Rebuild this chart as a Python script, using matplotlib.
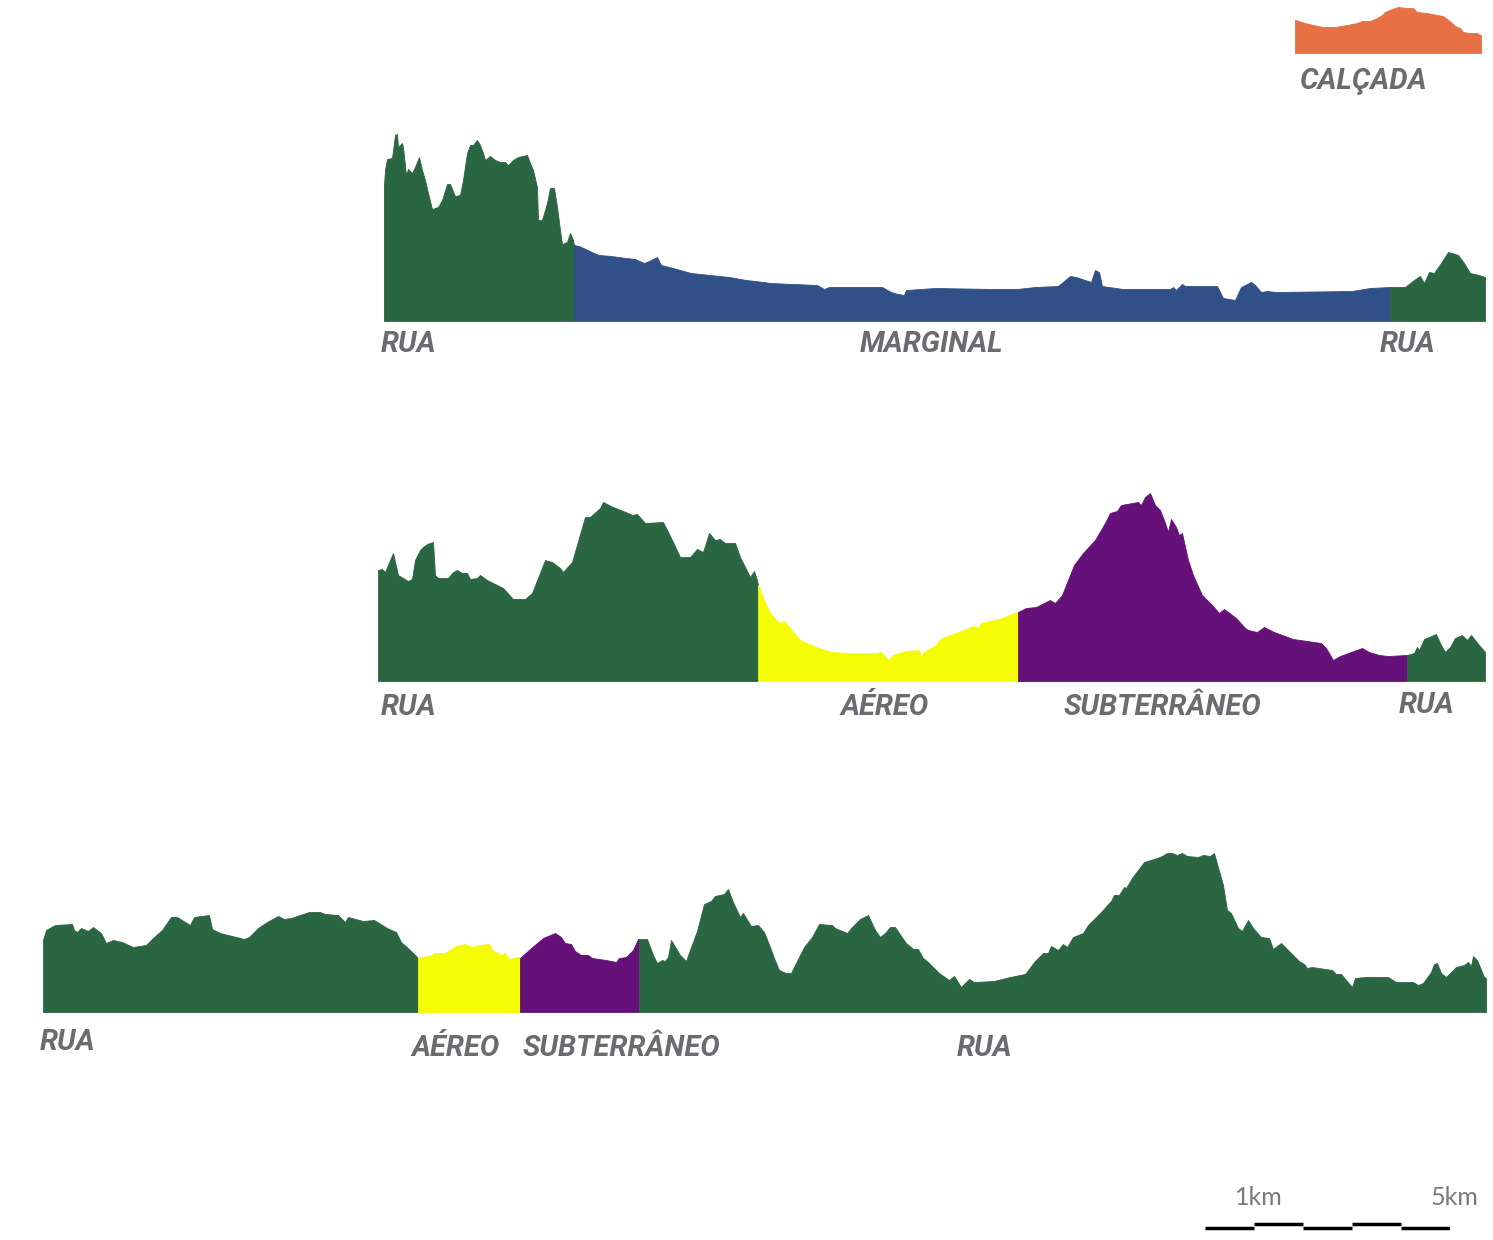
import numpy as np
import matplotlib
matplotlib.use("Agg")
import matplotlib.pyplot as plt
import matplotlib.transforms as mtransforms

# ---------------- data ----------------
COLORS = {
    "RUA": "#2a6642",
    "MARGINAL": "#325088",
    "AÉREO": "#f5fd04",
    "SUBTERRÂNEO": "#66117a",
    "CALÇADA": "#e87045",
}

# Calçada (small legend profile)
calcada_dist = [0.00, 0.20, 0.36, 0.56, 0.80, 1.04, 1.24, 1.34, 1.50, 1.64, 1.74, 1.80,
                1.94, 2.06, 2.24, 2.36, 2.44, 2.64, 2.84, 2.96, 3.04, 3.14, 3.20, 3.30,
                3.36, 3.50, 3.64, 3.70, 3.72]
calcada_elev = [733, 730, 728, 726, 726, 728, 730, 732, 732, 735, 738, 741,
                744, 746, 745, 745, 741, 740, 738, 737, 734, 730, 727, 725,
                721, 720, 720, 718, 718]
calcada_segs = [("CALÇADA", 0.00, 3.72)]

# Route 1
r1_dist = [0.00, 0.02, 0.06, 0.16, 0.22, 0.26, 0.28, 0.36, 0.38, 0.44, 0.48, 0.56, 0.62,
           0.70, 0.76, 0.82, 0.88, 0.96, 1.08, 1.16, 1.26, 1.32, 1.42, 1.52, 1.58, 1.66,
           1.72, 1.78, 1.86, 1.92, 1.98, 2.02, 2.12, 2.22, 2.32, 2.42, 2.48, 2.58, 2.68,
           2.86, 2.92, 2.98, 3.06, 3.08, 3.16, 3.26, 3.32, 3.40, 3.46, 3.52, 3.56, 3.66,
           3.72, 3.78, 3.80,
           3.90, 4.20, 4.30, 4.54, 4.84, 5.02, 5.20, 5.30, 5.46, 5.54, 5.78, 6.14, 6.90,
           7.24, 7.60, 7.72, 8.66, 8.80, 8.90, 9.96, 10.14, 10.28, 10.40, 10.44, 11.02,
           12.20, 12.66, 13.02, 13.48, 13.72, 13.84, 14.14, 14.22, 14.30, 14.36, 14.78,
           15.72, 15.78, 15.84, 15.96, 16.02, 16.66, 16.78, 17.02, 17.14, 17.34, 17.42,
           17.54, 17.66, 17.84, 19.36, 19.72, 20.12,
           20.42, 20.60, 20.72, 20.80, 20.90, 21.00, 21.14, 21.28, 21.36, 21.48, 21.60,
           21.72, 21.90, 22.02]
r1_elev = [836, 851, 862, 863, 886, 887, 874, 878, 874, 846, 852, 848, 854,
           864, 851, 841, 828, 812, 814, 821, 837, 837, 825, 826, 841, 868,
           876, 876, 881, 876, 868, 861, 865, 861, 859, 859, 856, 861, 864,
           866, 858, 851, 834, 801, 801, 818, 833, 833, 814, 791, 777, 779,
           788, 781, 776,
           775, 768, 766, 765, 763, 762, 758, 760, 764, 756, 753, 748, 744,
           741, 739, 738, 736, 732, 734, 734, 729, 727, 726, 731, 733,
           732, 732, 734, 735, 745, 744, 739, 751, 749, 735, 732,
           732, 734, 731, 737, 735, 735, 723, 721, 734, 739, 736,
           729, 730, 729, 730, 733, 734,
           734, 741, 745, 738, 749, 748, 758, 769, 768, 766, 758,
           748, 746, 744]
r1_segs = [("RUA", 0.00, 3.80), ("MARGINAL", 3.80, 20.12), ("RUA", 20.12, 22.02)]

# Route 2
r2_dist = [0.00, 0.08, 0.14, 0.30, 0.40, 0.60, 0.68, 0.74, 0.84, 0.90, 0.98, 1.10, 1.14,
           1.20, 1.40, 1.50, 1.58, 1.68, 1.78, 1.84, 1.98, 2.04, 2.18, 2.50, 2.70, 2.94,
           3.08, 3.34, 3.48, 3.64, 3.70, 3.88, 4.14, 4.24, 4.44, 4.50, 4.70, 5.00, 5.08,
           5.18, 5.34, 5.70, 5.90, 6.04, 6.24, 6.38, 6.50, 6.62, 6.74, 6.84, 6.94, 7.14,
           7.24, 7.44, 7.52, 7.58, 7.60,
           7.72, 7.84, 8.02, 8.12, 8.44, 8.58, 8.82, 9.06, 9.40, 9.96, 10.06, 10.20,
           10.30, 10.54, 10.82, 10.86, 10.92, 11.16, 11.24, 11.92, 12.00, 12.06, 12.48,
           12.72, 12.80,
           12.96, 13.16, 13.44, 13.54, 13.68, 13.92, 14.10, 14.34, 14.54, 14.64, 14.78,
           14.86, 15.20, 15.26, 15.34, 15.44, 15.54, 15.64, 15.72, 15.80, 15.86, 15.96,
           16.02, 16.08, 16.20, 16.30, 16.48, 16.68, 16.82, 16.92, 17.16, 17.34, 17.40,
           17.58, 17.72, 17.92, 18.30, 18.86, 18.96, 19.10, 19.24, 19.68, 19.82, 20.02,
           20.20, 20.58,
           20.72, 20.78, 20.82, 20.92, 21.02, 21.16, 21.24, 21.34, 21.44, 21.54, 21.68,
           21.78, 21.86, 22.02, 22.14]
r2_elev = [811, 812, 809, 828, 806, 800, 802, 821, 831, 834, 837, 839, 806,
           803, 803, 809, 811, 808, 808, 802, 803, 806, 801, 793, 782, 782,
           788, 821, 819, 813, 809, 819, 864, 864, 873, 879, 874, 868, 866,
           867, 858, 859, 839, 824, 824, 832, 829, 848, 841, 842, 838, 838,
           824, 804, 810, 801, 796,
           781, 768, 758, 760, 741, 738, 733, 729, 728, 728, 729, 721,
           726, 730, 731, 724, 729, 736, 742, 755, 753, 758, 763,
           768, 769,
           773, 774, 781, 778, 786, 816, 828, 841, 858, 868, 870,
           876, 879, 876, 884, 888, 876, 871, 861, 849, 862, 854,
           846, 848, 821, 806, 786, 776, 768, 772, 763, 753, 751,
           749, 754, 749, 742, 738, 733, 721, 725, 733, 729, 726,
           725, 726,
           728, 734, 731, 742, 744, 747, 738, 729, 734, 743, 746,
           741, 746, 736, 729]
r2_segs = [("RUA", 0.00, 7.60), ("AÉREO", 7.60, 12.80),
           ("SUBTERRÂNEO", 12.80, 20.58), ("RUA", 20.58, 22.14)]

# Route 3
r3_dist = [0.00, 0.06, 0.24, 0.58, 0.62, 0.68, 0.76, 0.90, 1.00, 1.16, 1.26, 1.40, 1.58,
           1.80, 2.06, 2.20, 2.38, 2.56, 2.68, 2.94, 3.02, 3.32, 3.38, 3.54, 4.02, 4.12,
           4.30, 4.48, 4.70, 4.82, 4.96, 5.32, 5.54, 5.64, 5.90, 6.04, 6.10, 6.40, 6.62,
           6.88, 7.06, 7.16, 7.32, 7.50,
           7.56, 7.74, 7.82, 8.04, 8.26, 8.44, 8.58, 8.72, 8.92, 8.98, 9.16, 9.24, 9.32,
           9.52, 9.54,
           9.74, 10.00, 10.24, 10.36, 10.44, 10.56, 10.64, 10.76, 10.90, 10.98, 11.26,
           11.46, 11.52, 11.66, 11.80, 11.90, 11.92,
           12.02, 12.08, 12.20, 12.28, 12.38, 12.44, 12.50, 12.56, 12.74, 12.86, 12.96,
           13.08, 13.22, 13.36, 13.44, 13.62, 13.70, 13.80, 13.94, 14.00, 14.16, 14.30,
           14.42, 14.54, 14.62, 14.72, 14.86, 14.96, 15.06, 15.22, 15.38, 15.52, 15.78,
           15.84, 16.08, 16.18, 16.34, 16.50, 16.64, 16.74, 16.84, 16.94, 17.04, 17.16,
           17.26, 17.40, 17.50, 17.60, 17.70, 17.92, 18.12, 18.22, 18.36, 18.52, 18.62,
           19.02, 19.34, 19.64, 19.84, 20.00, 20.10, 20.16, 20.30, 20.40, 20.48, 20.60,
           20.80, 20.90, 21.00, 21.16, 21.36, 21.42, 21.52, 21.62, 21.66, 21.78, 22.02,
           22.28, 22.38, 22.48, 22.58, 22.68, 22.78, 22.88, 23.10, 23.20, 23.34, 23.42,
           23.60, 23.68, 23.76, 23.90, 23.98, 24.10, 24.20, 24.36, 24.52, 24.60, 24.76,
           25.12, 25.22, 25.28, 25.38, 25.78, 25.86, 25.96, 26.18, 26.24, 26.44, 26.90,
           27.06, 27.40, 27.50, 27.60, 27.70, 27.76, 27.82, 27.88, 27.96, 28.06, 28.16,
           28.26, 28.42, 28.50, 28.56, 28.60, 28.68, 28.82, 28.86]
r3_elev = [772, 782, 787, 788, 782, 780, 784, 781, 785, 779, 769, 772, 770,
           765, 767, 774, 782, 795, 795, 787, 795, 797, 783, 779, 773, 775,
           784, 790, 796, 793, 794, 800, 800, 798, 797, 790, 795, 791, 792,
           784, 780, 770, 763, 754,
           755, 756, 759, 759, 766, 768, 765, 767, 768, 762, 757, 759, 753,
           755, 754,
           763, 774, 779, 775, 769, 768, 761, 757, 757, 754, 752,
           750, 754, 755, 762, 773, 773,
           773, 773, 757, 749, 752, 751, 755, 772, 757, 751, 765,
           781, 808, 811, 816, 818, 823, 810, 795, 799, 786, 787,
           780, 765, 754, 742, 739, 739, 749, 765, 775, 788, 787,
           784, 779, 785, 793, 797, 782, 775, 779, 785, 785, 776,
           769, 763, 763, 754, 750, 739, 732, 736, 725, 733, 730,
           731, 735, 738, 751, 759, 759, 766, 762, 768, 765, 775,
           779, 787, 792, 800, 811, 817, 817, 825, 824, 834, 850,
           854, 856, 859, 859, 857, 859, 856, 855, 857, 856, 859,
           827, 802, 799, 784, 781, 792, 784, 775, 774, 763, 769,
           751, 748, 744, 745, 742, 738, 738, 725, 734, 735, 735,
           730, 730, 727, 729, 736, 740, 748, 749, 739, 735, 740,
           745, 747, 750, 746, 756, 752, 735, 734]
r3_segs = [("RUA", 0.00, 7.50), ("AÉREO", 7.50, 9.54),
           ("SUBTERRÂNEO", 9.54, 11.92), ("RUA", 11.92, 28.86)]

scale_km = [0, 1, 2, 3, 4, 5]
scale_labels = {1: "1km", 5: "5km"}

BASE = 700

# ---------------- layout ----------------
W, H = 1493, 1240
fig = plt.figure(figsize=(W / 100, H / 100), dpi=100)
fig.patch.set_facecolor("white")


def px_axes(x0, x1, ytop, ybot):
    return fig.add_axes([x0 / W, 1 - ybot / H, (x1 - x0) / W, (ybot - ytop) / H])


def draw_profile(ax, dist, elev, segs, top):
    d = np.asarray(dist, float)
    e = np.asarray(elev, float)
    for kind, a, b in segs:
        m = (d >= a - 1e-9) & (d <= b + 1e-9)
        ax.fill_between(d[m], BASE, e[m], color=COLORS[kind], lw=0.6,
                        edgecolor=COLORS[kind])
    ax.set_xlim(d[0], d[-1])
    ax.set_ylim(BASE, top)
    ax.axis("off")


ax0 = px_axes(1295, 1481, 0, 53)
draw_profile(ax0, calcada_dist, calcada_elev, calcada_segs, 753)

ax1 = px_axes(384, 1485, 120, 321)
draw_profile(ax1, r1_dist, r1_elev, r1_segs, 901)

ax2 = px_axes(378, 1485, 480, 681)
draw_profile(ax2, r2_dist, r2_elev, r2_segs, 901)

ax3 = px_axes(43, 1486, 811, 1012)
draw_profile(ax3, r3_dist, r3_elev, r3_segs, 901)

# ---------------- labels ----------------
LAB = dict(fontsize=21, fontstyle="italic", fontweight="bold", color="#6b6b70",
           family=["Roboto", "DejaVu Sans"], ha="left", va="baseline")


def label(x, y, s):
    fig.text(x / W, 1 - y / H, s, **LAB)


label(1300, 89, "CALÇADA")
label(381, 352, "RUA")
label(860, 352, "MARGINAL")
label(1380, 352, "RUA")
label(381, 715, "RUA")
label(840, 715, "AÉREO")
label(1064, 715, "SUBTERRÂNEO")
label(1399, 713, "RUA")
label(40, 1050, "RUA")
label(411, 1056, "AÉREO")
label(523, 1056, "SUBTERRÂNEO")
label(957, 1056, "RUA")

# ---------------- scale bar ----------------
axs = px_axes(1205, 1450, 1218, 1234)
for i in range(len(scale_km) - 1):
    lvl = 1 if i % 2 == 1 else 0
    axs.plot([scale_km[i], scale_km[i + 1]], [lvl, lvl], color="black",
             lw=2.5, solid_capstyle="butt")
axs.set_xlim(scale_km[0], scale_km[-1])
axs.set_ylim(-1.5, 2.5)
axs.axis("off")
blend = mtransforms.blended_transform_factory(axs.transData, fig.transFigure)
shift = mtransforms.ScaledTranslation(5 / 100, 0, fig.dpi_scale_trans)
for k, s in scale_labels.items():
    axs.text(k, 1 - 1205 / H, s, transform=blend + shift, ha="center",
             va="baseline", fontsize=18, color="#7a7a7a", fontweight="normal",
             family=["Lato", "DejaVu Sans"], clip_on=False)

fig.savefig("out.png", dpi=100, facecolor="white")
